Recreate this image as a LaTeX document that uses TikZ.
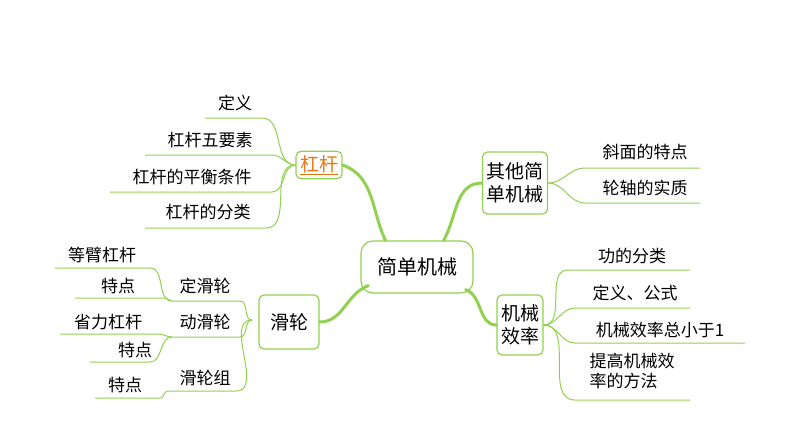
\documentclass[tikz,border=0pt]{standalone}
\usepackage{fontspec}
\setmainfont{Noto Sans CJK SC}
\definecolor{lgreen}{RGB}{146,208,80}
\definecolor{lorange}{RGB}{230,120,20}
\tikzset{
  leaf/.style={font=\fontsize{17}{20}\selectfont,inner sep=1pt},
  topic/.style={draw=lgreen,line width=1.2pt,rounded corners=5pt,font=\fontsize{19}{23}\selectfont,align=center,inner sep=4pt},
  uline/.style={draw=lgreen,line width=1pt},
  trunk/.style={draw=lgreen,line width=3pt,line cap=round}
}
\begin{document}
\begin{tikzpicture}[x=1pt,y=-1pt]
  \useasboundingbox (0,0) rectangle (794,447);
  % centre and branches
  \node[topic,minimum width=112,minimum height=52,rounded corners=12pt,font=\fontsize{20}{24}\selectfont] (root) at (417,267) {简单机械};
  \node[topic,text=lorange] (lever) at (319,165) {\underline{杠杆}};
  \node[topic,minimum height=62] (other) at (515,183) {其他简\\单机械};
  \node[topic,minimum width=60,minimum height=54] (pulley) at (289,322) {滑轮};
  \node[topic,minimum height=60] (eff) at (520,325) {机械\\效率};
  \draw[trunk] (root.north west)++(25,0) coordinate (r1) to[out=115,in=-20] (lever.east);
  \draw[trunk] (root.north east)++(-30,0) coordinate (r2) to[out=60,in=180] (other.west);
  \draw[trunk] (root.south west)++(8,-8) coordinate (r3) to[out=200,in=0] (pulley.east);
  \draw[trunk] (root.south east)++(-8,-4) coordinate (r4) to[out=-20,in=180] (eff.west);
  % lever leaves
  \node[leaf] (l1) at (235,103) {定义};
  \node[leaf] (l2) at (210,140) {杠杆五要素};
  \node[leaf] (l3) at (192,177) {杠杆的平衡条件};
  \node[leaf] (l4) at (208,212) {杠杆的分类};
  \coordinate (lj) at (lever.west);
  \draw[uline] (205,118) -- (262,118) to[out=0,in=180] (lj);
  \draw[uline] (145,155) -- (272,155) to[out=0,in=180] (lj);
  \draw[uline] (110,192) -- (272,192) to[out=0,in=180] (lj);
  \draw[uline] (145,228) -- (266,228) to[out=0,in=180] (lj);
  % other leaves
  \node[leaf] (o1) at (645,152) {斜面的特点};
  \node[leaf] (o2) at (645,188) {轮轴的实质};
  \draw[uline] (other.east) to[out=0,in=180] (585,168) -- (700,168);
  \draw[uline] (other.east) to[out=0,in=180] (585,203) -- (700,203);
  % efficiency leaves
  \node[leaf] (e1) at (632,256) {功的分类};
  \node[leaf] (e2) at (635,293) {定义、公式};
  \node[leaf] (e3) at (660,330) {机械效率总小于1};
  \node[leaf,align=left] (e4) at (632,371) {提高机械效\\率的方法};
  \draw[uline] (eff.east) to[out=0,in=180] (568,270) -- (690,270);
  \draw[uline] (eff.east) to[out=0,in=180] (575,308) -- (690,308);
  \draw[uline] (eff.east) to[out=0,in=180] (575,343) -- (745,343);
  \draw[uline] (eff.east) to[out=0,in=180] (575,400) -- (690,400);
  % pulley leaves
  \node[leaf] (p1) at (205,286) {定滑轮};
  \node[leaf] (p2) at (205,322) {动滑轮};
  \node[leaf] (p3) at (205,378) {滑轮组};
  \coordinate (pj) at (252,320);
  \draw[uline] (pj) to[out=180,in=0] (240,301) -- (172,301) coordinate (pa);
  \draw[uline] (pj) to[out=180,in=0] (240,337) -- (172,337) coordinate (pb);
  \draw[uline] (pj) to[out=180,in=0] (236,391) -- (168,391) coordinate (pc);
  \node[leaf] (q1) at (102,255) {等臂杠杆};
  \node[leaf] (q2) at (118,286) {特点};
  \node[leaf] (q3) at (108,322) {省力杠杆};
  \node[leaf] (q4) at (135,350) {特点};
  \node[leaf] (q5) at (125,385) {特点};
  \draw[uline] (pa) to[out=180,in=0] (150,268) -- (55,268);
  \draw[uline] (pa) to[out=180,in=0] (165,298) -- (75,298);
  \draw[uline] (pb) to[out=180,in=0] (158,334) -- (60,334);
  \draw[uline] (pb) to[out=180,in=0] (150,362) -- (90,362);
  \draw[uline] (pc) to[out=180,in=0] (160,398) -- (95,398);
\end{tikzpicture}
\end{document}
